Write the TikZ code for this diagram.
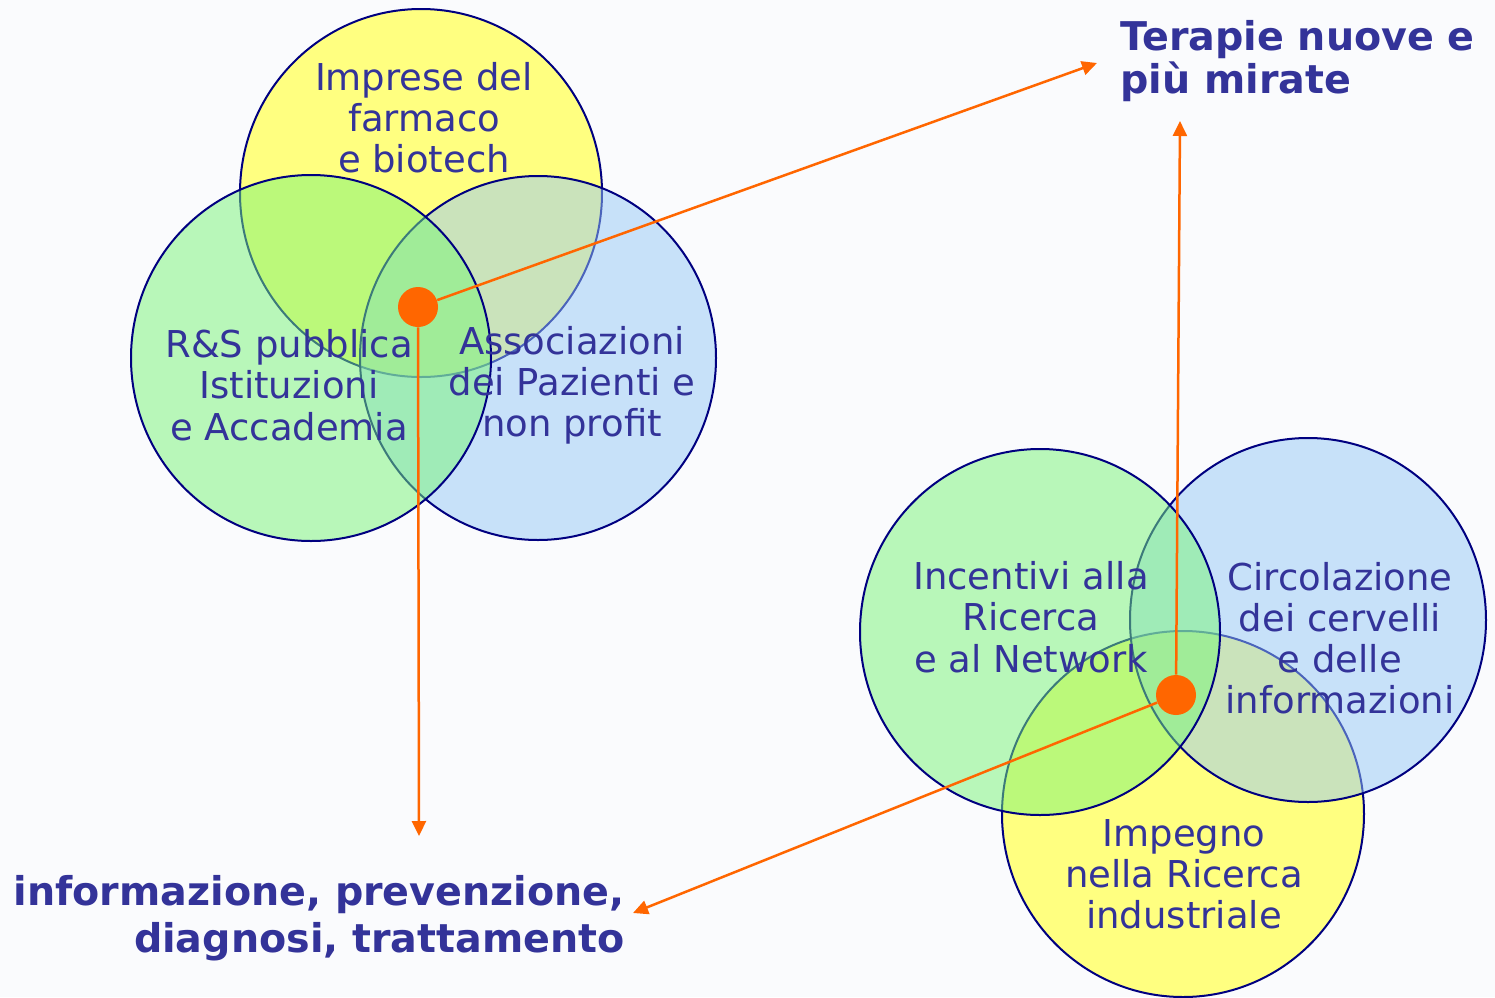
\documentclass[tikz,border=0pt]{standalone}
\usepackage{fontspec}
\setmainfont{DejaVu Sans}
\usetikzlibrary{arrows.meta}
\definecolor{bgc}{HTML}{FAFBFD}
\definecolor{yel}{RGB}{255,255,128}
\definecolor{grn}{RGB}{120,245,118}
\definecolor{blu}{RGB}{150,201,247}
\definecolor{navy}{HTML}{000080}
\definecolor{txt}{HTML}{333399}
\definecolor{orng}{HTML}{FF6600}
\begin{document}
\begin{tikzpicture}[x=0.5pt,y=-0.5pt,
  ring/.style={draw=navy,line width=1pt},
  yelring/.style={ring,fill=yel},
  grnring/.style={ring,fill=grn,fill opacity=0.5},
  bluring/.style={ring,fill=blu,fill opacity=0.5},
  lbl/.style={text=txt,align=center,font=\fontsize{18.5}{20.6}\selectfont,inner sep=0pt},
  ttl/.style={text=txt,font=\bfseries\fontsize{19.8}{21.5}\selectfont,inner sep=0pt},
  dot/.style={circle,fill=orng,minimum size=20pt,inner sep=0pt},
  arr/.style={draw=orng,line width=1.25pt,-{Triangle[length=7.5pt,width=7pt]}}]
\fill[bgc] (0,0) rectangle (1495,997);
\useasboundingbox (0,0) rectangle (1495,997);
% top-left group
\draw[yelring] (421,193) ellipse [x radius=181, y radius=184];
\draw[bluring] (538,358) ellipse [x radius=178, y radius=182];
\draw[grnring] (311,358) ellipse [x radius=180, y radius=183];
% bottom-right group
\draw[yelring] (1183,814) ellipse [x radius=181, y radius=183];
\draw[bluring] (1308,620) ellipse [x radius=178, y radius=182];
\draw[grnring] (1040,632) ellipse [x radius=180, y radius=183];
% labels
\node[lbl] (imp) at (424,118) {Imprese del\\farmaco\\e biotech};
\node[lbl] (rs) at (289,385) {R\&S pubblica\\Istituzioni\\e Accademia};
\node[lbl] (ass) at (572,385) {Associazioni\\dei Pazienti e\\non profit};
\node[lbl] (inc) at (1031,617) {Incentivi alla\\Ricerca\\e al Network};
\node[lbl] (cir) at (1340,638) {Circolazione\\dei cervelli\\e delle\\informazioni};
\node[lbl] (ipg) at (1184,874) {Impegno\\nella Ricerca\\industriale};
% titles
\node[ttl,anchor=north west,align=left] (ter) at (1120,20) {Terapie nuove e\\più mirate};
\node[ttl,anchor=north east,align=right,font=\bfseries\fontsize{19.8}{23.5}\selectfont] (inf) at (625,875) {informazione, prevenzione,\\diagnosi, trattamento};
% connectors
\coordinate (t1) at (1097,63);
\coordinate (t2) at (419,836);
\coordinate (t3) at (1180,121);
\coordinate (t4) at (633,913);
\node[dot] (d1) at (418,307) {};
\node[dot] (d2) at (1176,695) {};
\draw[arr] (d1) -- (t1);
\draw[arr] (d1) -- (t2);
\draw[arr] (d2) -- (t3);
\draw[arr] (d2) -- (t4);
\end{tikzpicture}
\end{document}
